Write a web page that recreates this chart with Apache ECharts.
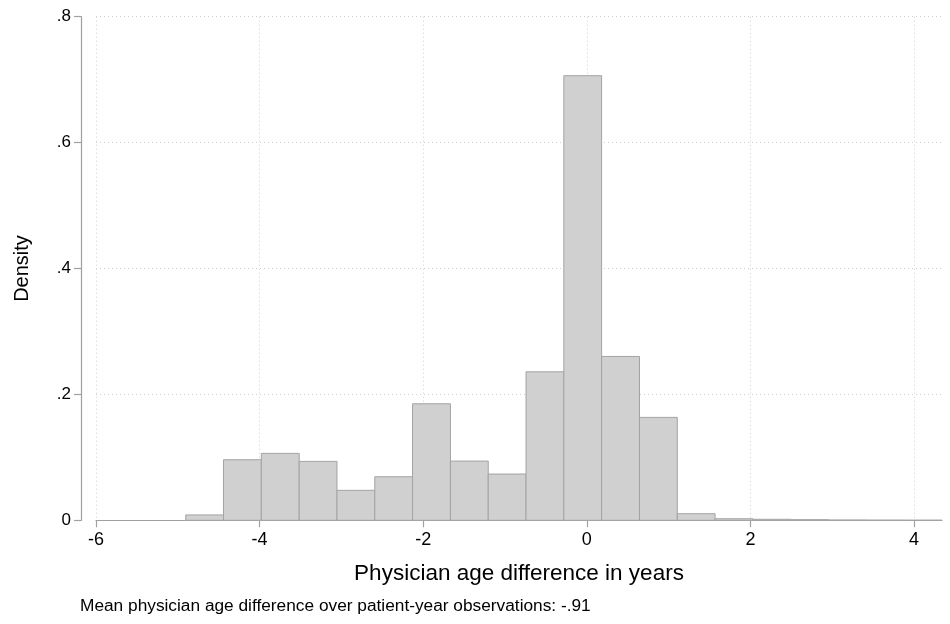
<!DOCTYPE html>
<html>
<head>
<meta charset="utf-8">
<title>Physician age difference</title>
<script src="https://cdn.jsdelivr.net/npm/echarts@6/dist/echarts.min.js"></script>
<style>
  html, body { margin: 0; padding: 0; background: #fff; }
  #main { width: 950px; height: 624px; }
</style>
</head>
<body>
<div id="main"></div>
<script>
// histogram bins (edges in years) and densities
const binEdges = [-4.903, -4.441, -3.979, -3.516, -3.054, -2.592, -2.130, -1.667, -1.205, -0.743,
  -0.281, 0.181, 0.644, 1.106, 1.568, 2.030, 2.493, 2.955, 3.417, 3.879, 4.342];
const densities = [0.0085, 0.0962, 0.1063, 0.0936, 0.0476, 0.0692, 0.1851, 0.0941, 0.0735, 0.2359,
  0.7063, 0.2603, 0.1635, 0.0105, 0.0025, 0.0016, 0.0010, 0.0005, 0.0003, 0.0002];
const xTicks = [-6, -4, -2, 0, 2, 4];
const xTickLabels = ['-6', '-4', '-2', '0', '2', '4'];
const yTickLabels = ['0', '.2', '.4', '.6', '.8'];
const meanNote = 'Mean physician age difference over patient-year observations: -.91';

const font = 'Liberation Sans, Arial, Helvetica, sans-serif';
const bins = densities.map((d, i) => [binEdges[i], binEdges[i + 1], d]);

const chart = echarts.init(document.getElementById('main'));
chart.setOption({
  backgroundColor: '#fff',
  animation: false,
  title: {
    text: meanNote,
    left: 80, top: 598, padding: 0,
    textStyle: { fontFamily: font, fontSize: 17.3, fontWeight: 'normal', color: '#000' }
  },
  grid: { left: 96, right: 8, top: 16.7, bottom: 103.7, containLabel: false },
  xAxis: {
    type: 'value',
    min: -6, max: 4.342, interval: 2,
    name: 'Physician age difference in years',
    nameLocation: 'middle', nameGap: 42,
    nameTextStyle: { fontFamily: font, fontSize: 22.5, color: '#000' },
    axisLine: { show: true, onZero: false, lineStyle: { color: '#a0a0a0', width: 1.2 } },
    axisTick: { show: true, length: 7, customValues: xTicks, lineStyle: { color: '#a0a0a0', width: 1.2 } },
    axisLabel: {
      customValues: xTicks, margin: 11,
      fontFamily: font, fontSize: 18, color: '#000',
      formatter: (v) => xTickLabels[xTicks.indexOf(v)]
    },
    splitLine: { show: true, lineStyle: { color: '#cfcfcf', type: [1, 3], width: 1 } }
  },
  yAxis: {
    type: 'value',
    min: 0, max: 0.8, interval: 0.2,
    offset: 15,
    name: 'Density',
    nameLocation: 'middle', nameGap: 49, nameRotate: 90,
    nameTextStyle: { fontFamily: font, fontSize: 20, color: '#000' },
    axisLine: { show: true, onZero: false, lineStyle: { color: '#a0a0a0', width: 1.2 } },
    axisTick: { show: true, length: 7, lineStyle: { color: '#a0a0a0', width: 1.2 } },
    axisLabel: {
      margin: 10, fontFamily: font, fontSize: 17, color: '#000',
      formatter: (v, i) => yTickLabels[i]
    },
    splitLine: { show: true, lineStyle: { color: '#cfcfcf', type: [1, 3], width: 1 } }
  },
  series: [{
    type: 'custom',
    data: bins,
    encode: { x: [0, 1], y: 2 },
    renderItem: function (params, api) {
      const top = api.coord([api.value(0), api.value(2)]);
      const bottom = api.coord([api.value(1), 0]);
      return {
        type: 'rect',
        shape: { x: top[0], y: top[1], width: bottom[0] - top[0], height: bottom[1] - top[1] },
        style: { fill: '#d0d0d0', stroke: '#a3a3a3', lineWidth: 1 }
      };
    }
  }]
});
window.onresize = chart.resize;
</script>
</body>
</html>
